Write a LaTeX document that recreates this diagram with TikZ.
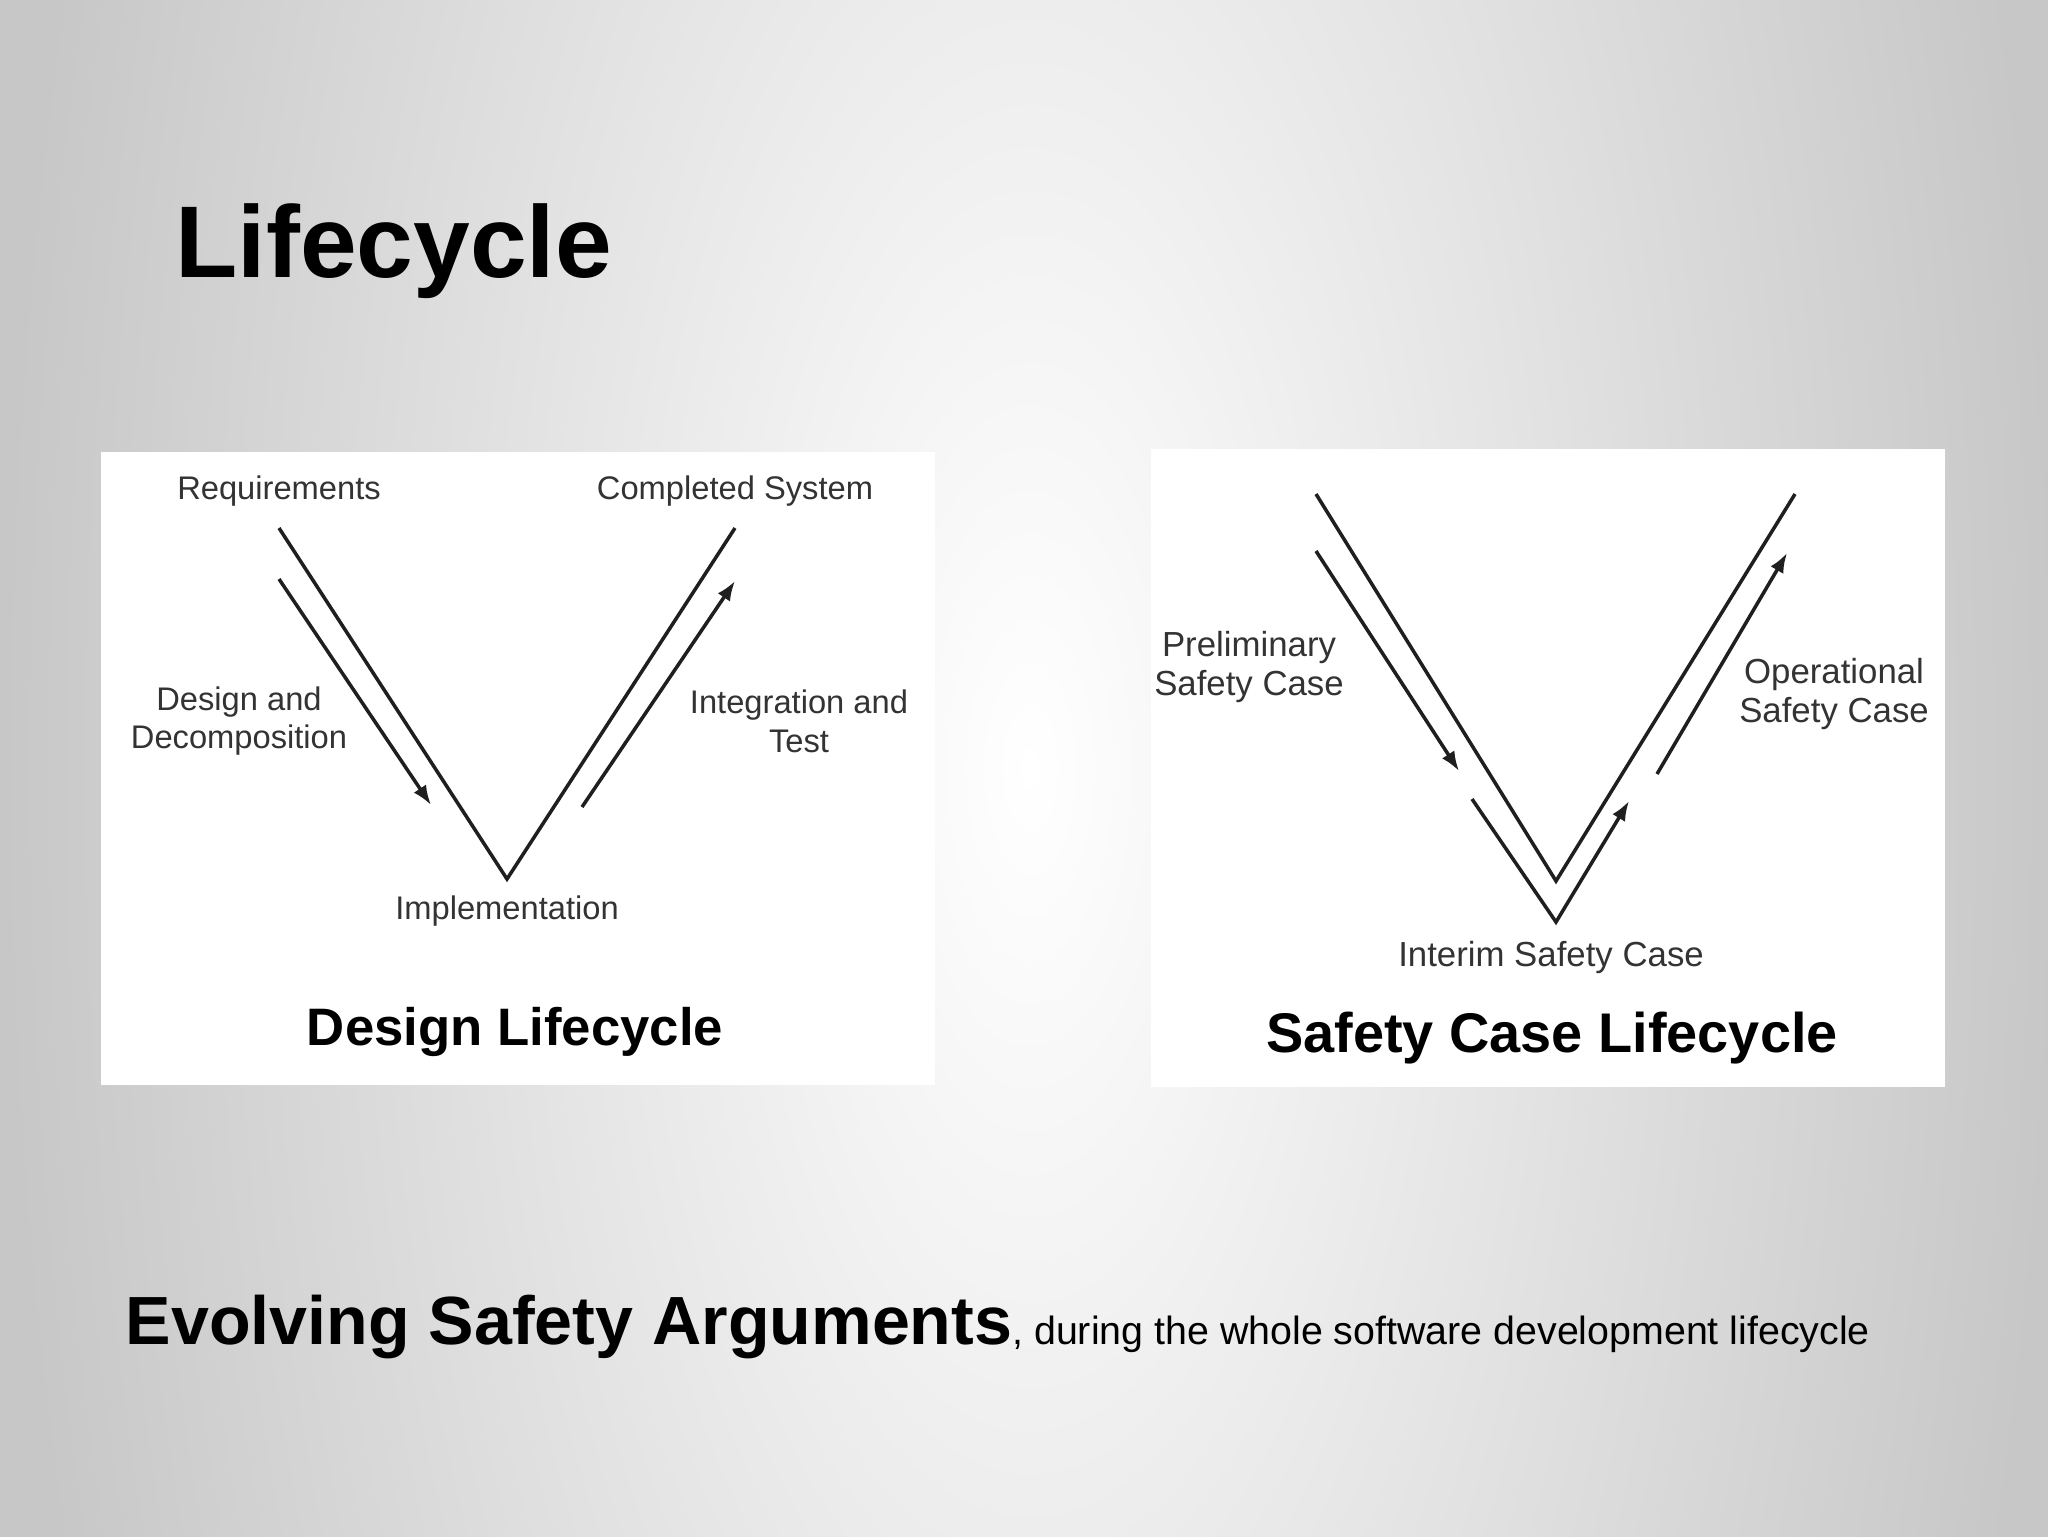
\documentclass[tikz,border=0pt]{standalone}
\usepackage{fontspec}
\setmainfont{Liberation Sans}
\usetikzlibrary{arrows.meta}

% soft grey slide background, bright in the middle
\pgfdeclareradialshading{slideglow}{\pgfpoint{0bp}{0bp}}{%
  color(0bp)=(white); color(25bp)=(black!22); color(50bp)=(black!25)}

\begin{document}
\begin{tikzpicture}[x=0.1mm, y=-0.1mm,
    vline/.style={line width=1pt, draw=black!88, line join=miter},
    varrow/.style={vline, -{Latex[length=5.6pt,width=4.2pt]}},
    lblL/.style={font=\fontsize{9.3}{11}\selectfont, text=black!80, align=center, inner sep=0pt},
    lblR/.style={font=\fontsize{9.9}{11.3}\selectfont, text=black!80, align=center, inner sep=0pt},
    caption/.style={text=black, inner sep=0pt}]

    \useasboundingbox (0,0) rectangle (2048,1536);

    % Background
    \begin{scope}
        \clip (0,0) rectangle (2048,1536);
        \shade[shading=slideglow] (0,-1632) rectangle (2060,3168);
    \end{scope}

    \node[caption, anchor=base west, font=\bfseries\fontsize{29}{34}\selectfont] (title) at (175,277) {Lifecycle};

    % Design lifecycle panel
    \fill[white] (101,452) rectangle (935,1085);

    \coordinate (dTopL) at (279,528);
    \coordinate (dBot) at (507,879);
    \coordinate (dTopR) at (735,528);
    \coordinate (dDownS) at (279,579);
    \coordinate (dDownE) at (431,805);
    \coordinate (dUpS) at (582,807);
    \coordinate (dUpE) at (735,581);

    \draw[vline] (dTopL) -- (dBot) -- (dTopR);
    \draw[varrow] (dDownS) -- (dDownE);
    \draw[varrow] (dUpS) -- (dUpE);

    \node[lblL] (req) at (279,491) {Requirements};
    \node[lblL] (done) at (735,491) {Completed System};
    \node[lblL] (decomp) at (239,721) {Design and\\Decomposition};
    \node[lblL] (integ) at (799,721) {Integration and\\Test};
    \node[lblL] (impl) at (507,911) {Implementation};
    \node[caption, font=\bfseries\fontsize{15}{18}\selectfont] (dName) at (515,1032) {Design Lifecycle};

    % Safety case lifecycle panel
    \fill[white] (1151,449) rectangle (1945,1087);

    \coordinate (sTopL) at (1316,494);
    \coordinate (sBot) at (1556,881);
    \coordinate (sTopR) at (1795,494);
    \coordinate (sDownS) at (1316,551);
    \coordinate (sDownE) at (1459,771);
    \coordinate (sInS) at (1472,799);
    \coordinate (sInBot) at (1556,922);
    \coordinate (sInE) at (1629,801);
    \coordinate (sUpS) at (1657,774);
    \coordinate (sUpE) at (1787,553);

    \draw[vline] (sTopL) -- (sBot) -- (sTopR);
    \draw[varrow] (sDownS) -- (sDownE);
    \draw[varrow] (sInS) -- (sInBot) -- (sInE);
    \draw[varrow] (sUpS) -- (sUpE);

    \node[lblR] (prelim) at (1249,667) {Preliminary\\Safety Case};
    \node[lblR] (oper) at (1834,694) {Operational\\Safety Case};
    \node[lblR] (interim) at (1551,957) {Interim Safety Case};
    \node[caption, font=\bfseries\fontsize{15.9}{19}\selectfont] (sName) at (1552,1038) {Safety Case Lifecycle};

    % Bottom line
    \node[caption, anchor=base west, font=\bfseries\fontsize{19.4}{24}\selectfont] (tagline) at (125,1344)
        {Evolving Safety Arguments{\mdseries\fontsize{11.2}{14}\selectfont, during the whole software development lifecycle}};

\end{tikzpicture}
\end{document}
